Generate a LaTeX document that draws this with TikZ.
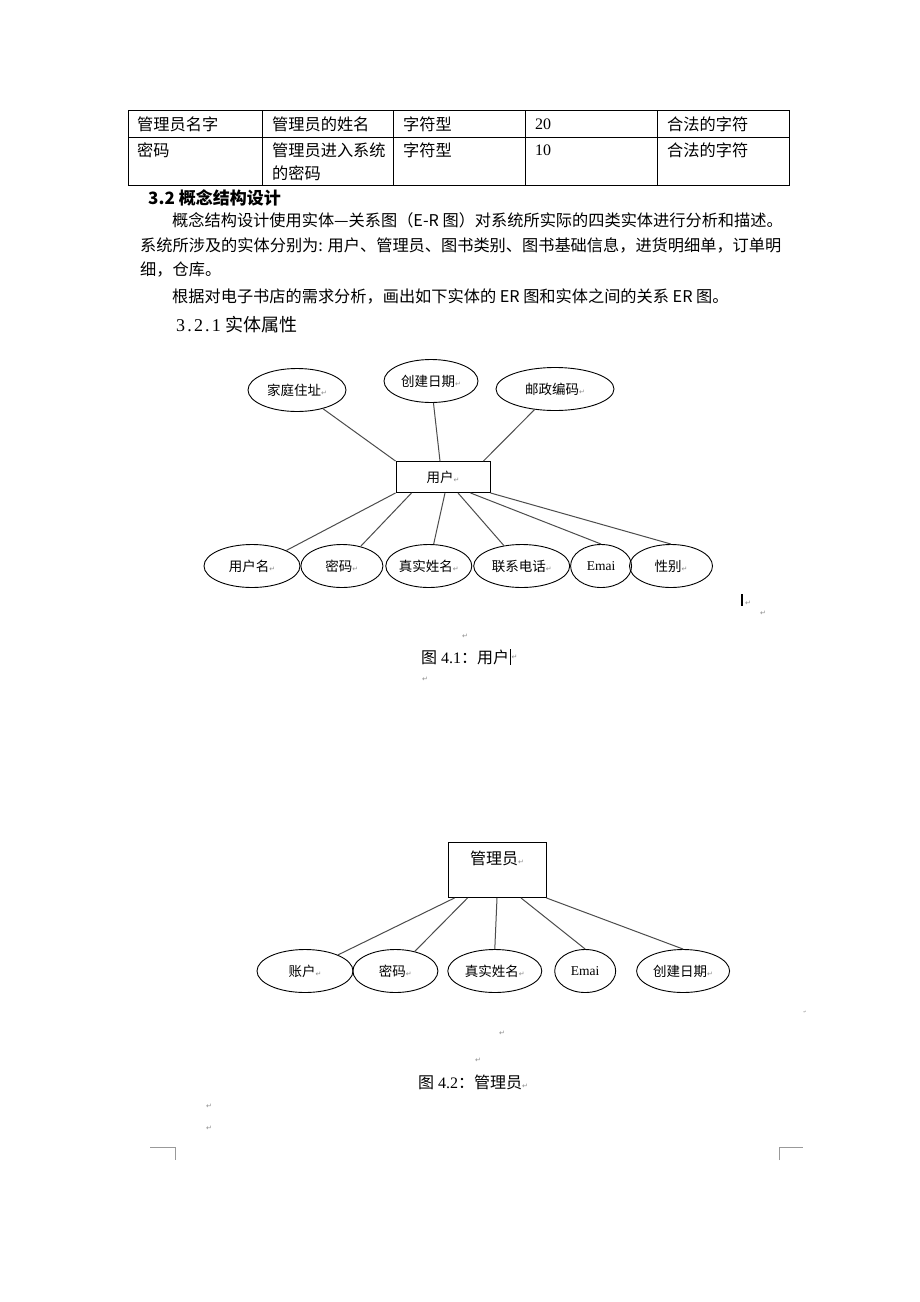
\documentclass[tikz,border=0pt]{standalone}
\usepackage{fontspec}
\setmainfont{Liberation Serif}
\newfontfamily\cjkfont{Noto Sans CJK SC}
\newfontfamily\markfont{DejaVu Sans}
\newfontfamily\numfont[LetterSpace=12]{Liberation Serif}
\usetikzlibrary{positioning,shapes.geometric}

\newcommand{\parmark}{{\markfont\fontsize{7}{7}\selectfont\color{black!45}↵}}

\tikzset{
  body/.style={anchor=west, inner sep=0pt, font=\cjkfont\fontsize{16.2}{18}\selectfont},
  attr/.style={draw, ellipse, line width=0.9pt, inner sep=0pt, minimum height=43pt, font=\cjkfont\fontsize{13.5}{14}\selectfont},
  entity/.style={draw, rectangle, line width=0.9pt, inner sep=0pt, font=\cjkfont\fontsize{13.5}{14}\selectfont},
  link/.style={draw=black!70, line width=1pt},
  pm/.style={inner sep=0pt, font=\markfont\fontsize{7}{7}\selectfont, text=black!45},
  rule/.style={line width=0.8pt}
}

\begin{document}
\begin{tikzpicture}[x=1pt, y=-1pt]
\fill[white] (0,0) rectangle (920,1302);

\draw[rule] (128,110) rectangle (789,185);
\draw[rule] (128,137) -- (789,137);
\foreach \x in {262,393,525,657}
  \draw[rule] (\x,110) -- (\x,185);

\node[body] (c11) at (137,124) {管理员名字};
\node[body] (c12) at (272,124) {管理员的姓名};
\node[body] (c13) at (403,124) {字符型};
\node[body, font=\rmfamily\fontsize{16}{18}\selectfont] (c14) at (535,124) {20};
\node[body] (c15) at (667,124) {合法的字符};
\node[body] (c21) at (137,150) {密码};
\node[body] (c22) at (272,150) {管理员进入系统};
\node[body] (c22b) at (272,173) {的密码};
\node[body] (c23) at (403,150) {字符型};
\node[body, font=\rmfamily\fontsize{16}{18}\selectfont] (c24) at (535,150) {10};
\node[body] (c25) at (667,150) {合法的字符};

\node[body, font=\cjkfont\bfseries\fontsize{17}{19}\selectfont] (h32) at (148,198) {3.2 概念结构设计};
\node[body] (p1) at (172,220) {概念结构设计使用实体—关系图（E-R 图）对系统所实际的四类实体进行分析和描述。};
\node[body] (p2) at (140,245) {系统所涉及的实体分别为: 用户、管理员、图书类别、图书基础信息，进货明细单，订单明};
\node[body] (p3) at (140,270) {细，仓库。};
\node[body] (p4) at (172,296) {根据对电子书店的需求分析，画出如下实体的 ER 图和实体之间的关系 ER 图。};
\node[body, font=\fontsize{18}{20}\selectfont] (h321) at (176,325) {{\numfont 3.2.1} {\cjkfont 实体属性}};

\node[entity, minimum width=94pt, minimum height=31pt] (usr) at (443,477) {用户\parmark};
\node[attr, minimum width=98pt] (home) at (297,390) {家庭住址\parmark};
\node[attr, minimum width=94pt] (cdate) at (431,381) {创建日期\parmark};
\node[attr, minimum width=118pt] (zip) at (555,389) {邮政编码\parmark};

\node[attr, minimum width=96pt] (uname) at (252,566) {用户名\parmark};
\node[attr, minimum width=82pt, right=0pt of uname] (upwd) {密码\parmark};
\node[attr, minimum width=86pt, right=2pt of upwd] (rname) {真实姓名\parmark};
\node[attr, minimum width=96pt, right=1pt of rname] (phone) {联系电话\parmark};
\node[attr, minimum width=61pt, right=0pt of phone] (umail) {\rmfamily Emai};
\node[attr, minimum width=83pt, right=-3pt of umail] (sex) {性别\parmark};

\draw[link] (home) -- (usr.north west);
\draw[link] (cdate) -- ([xshift=-3pt]usr.north);
\draw[link] (zip) -- ([xshift=-7pt]usr.north east);
\draw[link] (usr.south west) -- (uname.north east);
\draw[link] ([xshift=16pt]usr.south west) -- (upwd);
\draw[link] ([xshift=2pt]usr.south) -- (rname);
\draw[link] ([xshift=15pt]usr.south) -- (phone);
\draw[link] ([xshift=-20pt]usr.south east) -- (umail.north);
\draw[link] (usr.south east) -- (sex.north);

\draw[line width=1.5pt] (742,594) -- (742,606);
\node[pm] (m0) at (748,603) {↵};
\node[pm] (m1) at (763,613) {↵};
\node[pm] (m2) at (465,636) {↵};
\node[body, font=\fontsize{16}{18}\selectfont] (cap1) at (421,657) {{\cjkfont 图} 4.1{\cjkfont ：用户}};
\draw[line width=1.2pt] ([xshift=1pt]cap1.north east) -- ([xshift=1pt]cap1.south east);
\node[pm, right=2pt of cap1] (m3) {↵};
\node[pm] (m4) at (425,679) {↵};

\node[entity, minimum width=98pt, minimum height=55pt,
  label={[anchor=north, yshift=-5pt, font=\cjkfont\fontsize{16}{18}\selectfont]north:管理员\parmark}] (adm) at (497,870) {};

\node[attr, minimum width=96pt] (acct) at (305,971) {账户\parmark};
\node[attr, minimum width=85pt, right=-1pt of acct] (apwd) {密码\parmark};
\node[attr, minimum width=94pt, right=9pt of apwd] (aname) {真实姓名\parmark};
\node[attr, minimum width=61pt, right=12pt of aname] (amail) {\rmfamily Emai};
\node[attr, minimum width=93pt, right=20pt of amail] (adate) {创建日期\parmark};

\draw[link] ([xshift=7pt]adm.south west) -- (acct);
\draw[link] ([xshift=20pt]adm.south west) -- (apwd);
\draw[link] (adm.south) -- (aname.north);
\draw[link] ([xshift=24pt]adm.south) -- (amail.north);
\draw[link] (adm.south east) -- (adate.north);

\node[pm, font=\markfont\fontsize{4}{4}\selectfont] (m5) at (805,1012) {↵};
\node[pm] (m6) at (502,1033) {↵};
\node[pm] (m7) at (478,1060) {↵};
\node[body, font=\fontsize{16}{18}\selectfont] (cap2) at (418,1082) {{\cjkfont 图} 4.2{\cjkfont ：管理员}\parmark};
\node[pm] (m8) at (209,1106) {↵};
\node[pm] (m9) at (209,1128) {↵};

\draw[black!40, line width=0.8pt] (150,1147) -- (175,1147) -- (175,1160);
\draw[black!40, line width=0.8pt] (779,1160) -- (779,1147) -- (803,1147);
\end{tikzpicture}
\end{document}
